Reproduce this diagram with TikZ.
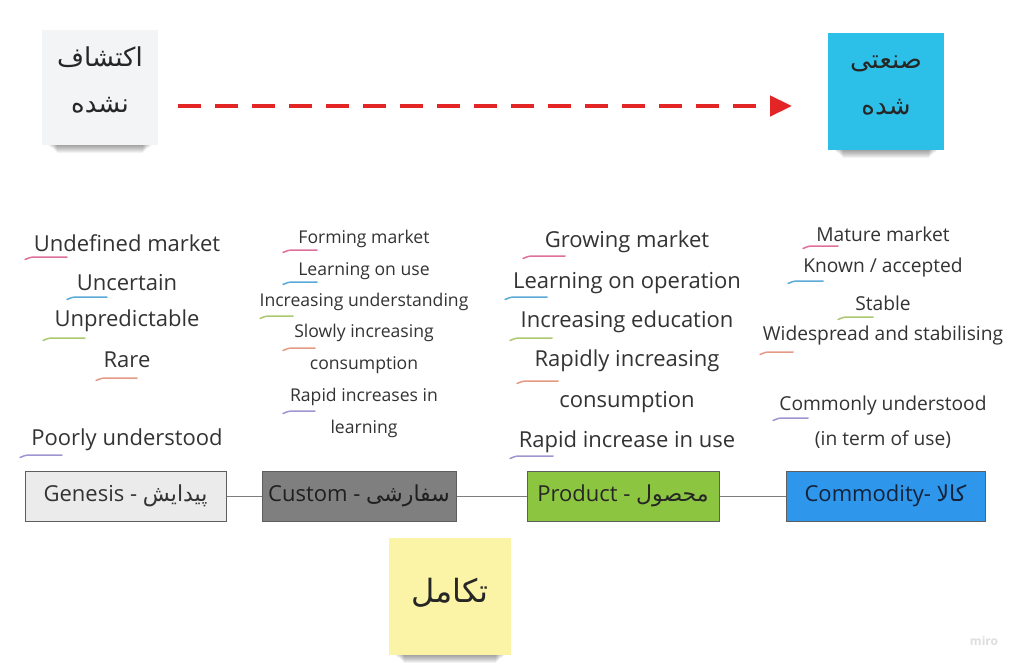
\documentclass[tikz,border=0pt]{standalone}
\usepackage{fontspec}
\setmainfont{Open Sans}
\newfontfamily\arabicfont[Script=Arabic]{DejaVu Sans}
\TeXXeTstate=1
\usetikzlibrary{arrows.meta}

\definecolor{inkgray}{HTML}{333333}
\definecolor{notegray}{HTML}{F3F4F6}
\definecolor{notecyan}{HTML}{2CBFE8}
\definecolor{noteyellow}{HTML}{FBF3A5}
\definecolor{arrowred}{HTML}{E42526}
\definecolor{boxline}{HTML}{5E5E5E}
\definecolor{genesisfill}{HTML}{EBEBEB}
\definecolor{customfill}{HTML}{7F7F7F}
\definecolor{productfill}{HTML}{8CC641}
\definecolor{commodityfill}{HTML}{2E96EB}
\definecolor{commodityink}{HTML}{14233A}
\definecolor{tkmagenta}{HTML}{D9578A}
\definecolor{tkblue}{HTML}{3E9BD0}
\definecolor{tkgreen}{HTML}{9DBF55}
\definecolor{tkorange}{HTML}{E08A70}
\definecolor{tkpurple}{HTML}{8E83C9}

\pgfdeclarelayer{paper}
\pgfdeclarelayer{bg}
\pgfsetlayers{paper,bg,main}

% short coloured pen stroke under the start of a line of text
\newcommand\penstroke[4]{%
  \draw[tickstroke,#1] (#2,#4+2.5) .. controls ({#2+6},#4) .. ({#2+12},#4) -- (#3,#4);}

% soft shadow along the lower edge of a sticky note
\newcommand\noteshadow[1]{%
  \begin{pgfonlayer}{bg}
  \foreach \i in {1,...,8}
    \fill[black,opacity=0.05]
      ([xshift={(6+1.2*\i)*1pt},yshift=12pt]#1.south west) rectangle
      ([xshift={(-6-1.2*\i)*1pt},yshift={-\i*1pt}]#1.south east);
  \end{pgfonlayer}}

\begin{document}
\begin{tikzpicture}[x=1pt,y=-1pt,
  note/.style={inner sep=0pt},
  notetext/.style={inner sep=0pt, align=center, text=black!85},
  stage/.style={draw=boxline, line width=1pt, minimum height=50pt, inner sep=0pt,
    font=\fontsize{22}{26}\selectfont, text=inkgray},
  link/.style={draw=boxline!80, line width=0.8pt},
  bigtext/.style={font=\fontsize{22}{26}\selectfont, text=inkgray, inner sep=0pt},
  smalltext/.style={font=\fontsize{17.6}{20}\selectfont, text=inkgray, inner sep=0pt},
  midtext/.style={font=\fontsize{19.2}{22}\selectfont, text=inkgray, inner sep=0pt},
  tickstroke/.style={line width=1.5pt, line cap=round, opacity=0.85}]
\useasboundingbox (0,0) rectangle (1024,669);
\begin{pgfonlayer}{paper}
\fill[white] (0,0) rectangle (1024,669);
\end{pgfonlayer}

% sticky notes
\node[note, fill=notegray, minimum width=116pt, minimum height=115pt] (undiscovered) at (100,87.5) {};
\node[note, fill=notecyan, minimum width=116pt, minimum height=117pt] (industrialised) at (886,91.5) {};
\node[note, fill=noteyellow, minimum width=122pt, minimum height=117pt] (evolution) at (450,596.5) {};
\noteshadow{undiscovered}
\noteshadow{industrialised}
\noteshadow{evolution}

\node[notetext, font=\arabicfont\fontsize{26}{46}\selectfont] (undiscoveredlabel)
  at ([yshift=8pt]undiscovered.center) {\beginR اکتشاف\endR\\\beginR نشده\endR};
\node[notetext, font=\arabicfont\fontsize{26}{46}\selectfont] (industrialisedlabel)
  at ([yshift=6pt]industrialised.center) {\beginR صنعتی\endR\\\beginR شده\endR};
\node[notetext, font=\arabicfont\fontsize{32}{36}\selectfont] (evolutionlabel)
  at ([yshift=4pt]evolution.center) {\beginR تکامل\endR};

% dashed arrow between the two notes
\coordinate (arrowstart) at (178,106);
\coordinate (arrowend) at (792,106);
\draw[arrowred, line width=4.5pt, dash pattern=on 23pt off 14pt,
      -{Triangle[length=22pt,width=20pt]}] (arrowstart) -- (arrowend);

% column 1: genesis
\node[bigtext] (g1) at (127,243) {Undefined market};
\node[bigtext] (g2) at (127,283) {Uncertain};
\node[bigtext] (g3) at (127,321) {Unpredictable};
\node[bigtext] (g4) at (127,360) {Rare};
\node[bigtext] (g5) at (127,440) {Poorly understood};

% column 2: custom
\node[smalltext] (c1) at (364,239) {Forming market};
\node[smalltext] (c2) at (364,271) {Learning on use};
\node[smalltext] (c3) at (364,302) {Increasing understanding};
\node[smalltext] (c4) at (364,333) {Slowly increasing};
\node[smalltext] (c5) at (364,365) {consumption};
\node[smalltext] (c6) at (364,397) {Rapid increases in};
\node[smalltext] (c7) at (364,429) {learning};

% column 3: product
\node[bigtext] (p1) at (627,242) {Growing market};
\node[bigtext] (p2) at (627,283) {Learning on operation};
\node[bigtext] (p3) at (627,322) {Increasing education};
\node[bigtext] (p4) at (627,361) {Rapidly increasing};
\node[bigtext] (p5) at (627,402) {consumption};
\node[bigtext] (p6) at (627,442) {Rapid increase in use};

% column 4: commodity
\node[midtext] (m1) at (883,234) {Mature market};
\node[midtext] (m2) at (883,268) {Known / accepted};
\node[midtext] (m3) at (883,303) {Stable};
\node[midtext] (m4) at (883,336) {Widespread and stabilising};
\node[midtext] (m5) at (883,406) {Commonly understood};
\node[midtext] (m6) at (883,440) {(in term of use)};

% pen strokes
\penstroke{tkmagenta}{25}{67}{257}
\penstroke{tkblue}{67}{107}{297}
\penstroke{tkgreen}{43}{85}{338}
\penstroke{tkorange}{96}{137}{378}
\penstroke{tkpurple}{20}{62}{455}

\penstroke{tkmagenta}{283}{317}{250}
\penstroke{tkblue}{283}{317}{282}
\penstroke{tkgreen}{260}{293}{316}
\penstroke{tkorange}{283}{315}{348}
\penstroke{tkpurple}{283}{315}{411}

\penstroke{tkmagenta}{523}{565}{256}
\penstroke{tkblue}{505}{547}{297}
\penstroke{tkgreen}{510}{552}{338}
\penstroke{tkorange}{517}{558}{381}
\penstroke{tkpurple}{510}{553}{456}

\penstroke{tkmagenta}{803}{838}{246}
\penstroke{tkblue}{788}{823}{281}
\penstroke{tkgreen}{838}{873}{317}
\penstroke{tkorange}{760}{793}{352}
\penstroke{tkpurple}{773}{808}{418}

% evolution stages
\node[stage, fill=genesisfill, minimum width=201pt] (genesis) at (125.5,496)
  {Genesis - {\arabicfont\beginR پیدایش\endR}};
\node[stage, fill=customfill, minimum width=194pt, text=black!88] (custom) at (359,496)
  {Custom - {\arabicfont\beginR سفارشی\endR}};
\node[stage, fill=productfill, minimum width=192pt, text=black!85] (product) at (623,496)
  {Product - {\arabicfont\beginR محصول\endR}};
\node[stage, fill=commodityfill, minimum width=199pt, text=commodityink] (commodity) at (885.5,496)
  {Commodity- {\arabicfont\beginR کالا\endR}};

\draw[link] (genesis) -- (custom);
\draw[link] (custom) -- (product);
\draw[link] (product) -- (commodity);

% watermark
\node[text=black!13, font=\bfseries\fontsize{12}{14}\selectfont, inner sep=0pt] (brand) at (984,641) {miro};
\end{tikzpicture}
\end{document}
